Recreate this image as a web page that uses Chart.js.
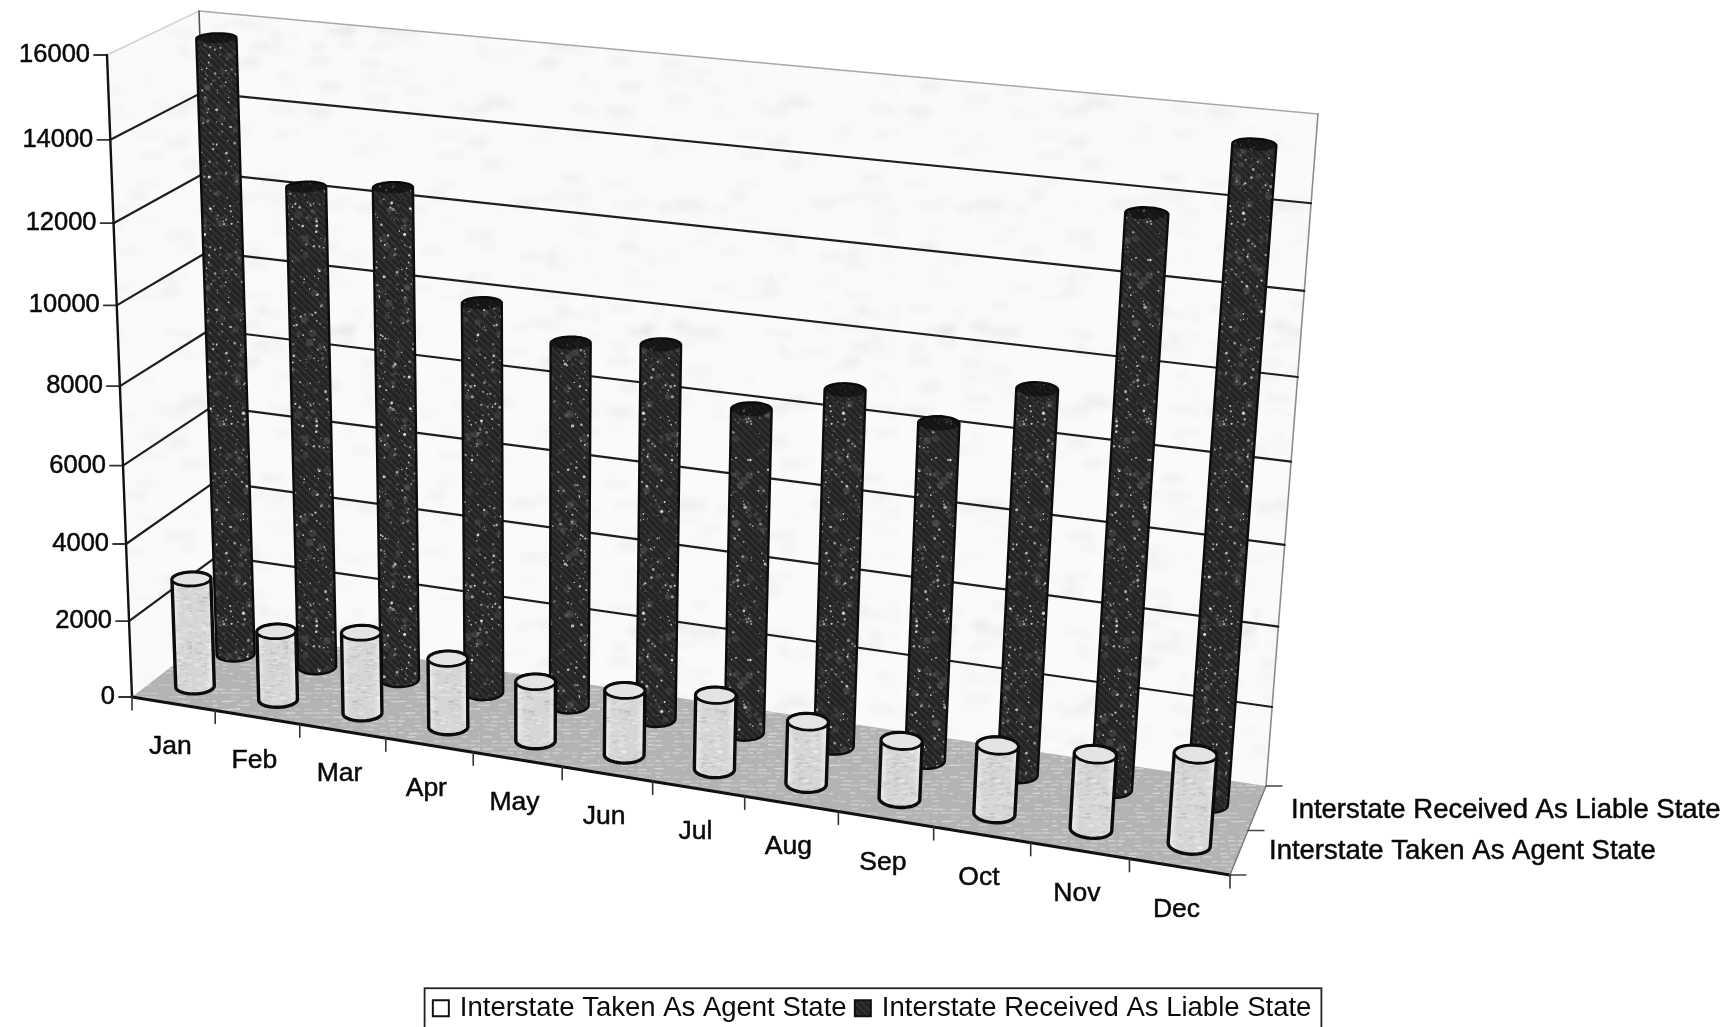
<!DOCTYPE html>
<html>
<head>
<meta charset="utf-8">
<title>Interstate cases by month</title>
<style>
  html, body { margin: 0; padding: 0; background: #fff; }
  canvas { display: block; }
</style>
<script src="https://cdn.jsdelivr.net/npm/chart.js@4"></script>
</head>
<body>
<canvas id="chart" width="1730" height="1027"></canvas>
<script>
// ---- data ----
const months = ["Jan", "Feb", "Mar", "Apr", "May", "Jun", "Jul", "Aug", "Sep", "Oct", "Nov", "Dec"];
const takenAsAgent = [2840, 1800, 2100, 1770, 1520, 1650, 1880, 1570, 1450, 1700, 1850, 2220];
const receivedAsLiable = [15740, 12340, 12555, 9970, 9250, 9470, 8170, 8910, 8390, 9480, 13800, 15570];
const seriesNames = ["Interstate Taken As Agent State", "Interstate Received As Liable State"];
const valueMax = 16000;
const valueStep = 2000;

// ---- 3d box: corners of the front and back planes on screen ----
const FRONT = { bl: [132, 697], br: [1230, 875], tr: [1282, 171], tl: [107, 55] };
const BACK = { bl: [220, 629], br: [1266, 786], tr: [1318, 114], tl: [199, 11] };
const ROW_DEPTH = [0.25, 0.72];
const RADIUS_U = 0.0174;
const RADIUS_W = 0.1;
const FONT = '"Liberation Sans", Arial, sans-serif';

function makeHomography(q) {
  const [x0, y0] = q.bl, [x1, y1] = q.br, [x2, y2] = q.tr, [x3, y3] = q.tl;
  const dx1 = x1 - x2, dx2 = x3 - x2, sx = x0 - x1 + x2 - x3;
  const dy1 = y1 - y2, dy2 = y3 - y2, sy = y0 - y1 + y2 - y3;
  const det = dx1 * dy2 - dx2 * dy1;
  const g = (sx * dy2 - dx2 * sy) / det;
  const h = (dx1 * sy - sx * dy1) / det;
  const a = x1 - x0 + g * x1, b = x3 - x0 + h * x3;
  const d = y1 - y0 + g * y1, e = y3 - y0 + h * y3;
  return (u, v) => {
    const t = g * u + h * v + 1;
    return [(a * u + b * v + x0) / t, (d * u + e * v + y0) / t];
  };
}
const frontPlane = makeHomography(FRONT);
const backPlane = makeHomography(BACK);

// u along the months, v up the values, w into the depth
function project(u, v, w) {
  const f = frontPlane(u, v), b = backPlane(u, v);
  return [f[0] + (b[0] - f[0]) * w, f[1] + (b[1] - f[1]) * w];
}

function convexHull(points) {
  const pts = points.slice().sort((p, q) => p[0] - q[0] || p[1] - q[1]);
  const cross = (o, p, q) => (p[0] - o[0]) * (q[1] - o[1]) - (p[1] - o[1]) * (q[0] - o[0]);
  const lower = [], upper = [];
  pts.forEach(p => {
    while (lower.length > 1 && cross(lower[lower.length - 2], lower[lower.length - 1], p) <= 0) lower.pop();
    lower.push(p);
  });
  pts.slice().reverse().forEach(p => {
    while (upper.length > 1 && cross(upper[upper.length - 2], upper[upper.length - 1], p) <= 0) upper.pop();
    upper.push(p);
  });
  return lower.slice(0, -1).concat(upper.slice(0, -1));
}

function tracePoly(ctx, pts) {
  ctx.beginPath();
  pts.forEach((p, i) => (i ? ctx.lineTo(p[0], p[1]) : ctx.moveTo(p[0], p[1])));
  ctx.closePath();
}

function strokeLine(ctx, a, b, color, width) {
  ctx.strokeStyle = color;
  ctx.lineWidth = width;
  ctx.beginPath();
  ctx.moveTo(a[0], a[1]);
  ctx.lineTo(b[0], b[1]);
  ctx.stroke();
}

// labels get a hairline stroke so they sit a little heavier
function heavyText(ctx, text, x, y, size, align) {
  ctx.font = size + "px " + FONT;
  ctx.textAlign = align;
  ctx.textBaseline = "middle";
  ctx.fillStyle = "#0a0a0a";
  ctx.strokeStyle = "#0a0a0a";
  ctx.lineWidth = 0.5;
  ctx.fillText(text, x, y);
  ctx.strokeText(text, x, y);
}

// ---- grainy fills ----
let seed = 7331;
function nextNoise() {
  seed = (seed * 16807) % 2147483647;
  return seed / 2147483647;
}

function makeTile(size, paint) {
  const tile = document.createElement("canvas");
  tile.width = tile.height = size;
  paint(tile.getContext("2d"), size);
  return tile;
}

const darkTile = makeTile(200, (c, s) => {
  c.fillStyle = "#242424";
  c.fillRect(0, 0, s, s);
  c.strokeStyle = "rgba(90,90,90,.3)";
  c.lineWidth = 1.6;
  for (let i = -s; i < s; i += 7) {
    c.beginPath();
    c.moveTo(i, 0);
    c.lineTo(i + s, s);
    c.stroke();
  }
  for (let i = 0; i < 260; i++) {
    c.fillStyle = "rgba(110,110,110," + (0.12 + nextNoise() * 0.25) + ")";
    c.beginPath();
    c.arc(nextNoise() * s, nextNoise() * s, 1 + nextNoise() * 3, 0, 7);
    c.fill();
  }
  for (let i = 0; i < 560; i++) {
    c.fillStyle = "rgba(235,235,235," + (0.3 + nextNoise() * 0.6) + ")";
    c.beginPath();
    c.arc(nextNoise() * s, nextNoise() * s, 0.5 + nextNoise() * nextNoise() * 1.4, 0, 7);
    c.fill();
  }
});

const lightTile = makeTile(96, (c, s) => {
  for (let i = 0; i < 420; i++) {
    c.fillStyle = nextNoise() > 0.5 ? "rgba(255,255,255,.3)" : "rgba(130,130,130,.16)";
    c.fillRect(nextNoise() * s, nextNoise() * s, 2 + nextNoise() * 5, 1.4);
  }
});

const floorTile = makeTile(120, (c, s) => {
  c.fillStyle = "#b3b3b3";
  c.fillRect(0, 0, s, s);
  for (let y = 0; y < s; y += 4) {
    for (let x = 0; x < s; x += 9) {
      if (nextNoise() > 0.35) {
        c.fillStyle = "rgba(235,235,235," + (0.25 + nextNoise() * 0.35) + ")";
        c.fillRect(x + nextNoise() * 4, y + nextNoise(), 4 + nextNoise() * 6, 1.4);
      }
    }
  }
});

// soft clouds on the walls
const wallTile = makeTile(300, (c, s) => {
  c.fillStyle = "#fafafa";
  c.fillRect(0, 0, s, s);
  c.filter = "blur(3px)";
  for (let i = 0; i < 150; i++) {
    c.fillStyle = "rgba(205,205,205," + (0.05 + nextNoise() * 0.12) + ")";
    c.fillRect(nextNoise() * s, nextNoise() * s, 8 + nextNoise() * 22, 3 + nextNoise() * 8);
  }
  c.filter = "none";
});

// ---- cylinders ----
function ring(u, v, w) {
  const out = [];
  for (let k = 0; k < 40; k++) {
    const a = (k / 40) * Math.PI * 2;
    out.push(project(u + RADIUS_U * Math.cos(a), v, w + RADIUS_W * Math.sin(a)));
  }
  return out;
}

function drawCylinder(ctx, u, v, w, dark) {
  const top = ring(u, v, w), bottom = ring(u, 0, w);
  const hull = convexHull(top.concat(bottom));
  const xs = hull.map(p => p[0]);
  const left = Math.min(...xs), right = Math.max(...xs);

  ctx.save();
  tracePoly(ctx, hull);
  if (dark) {
    ctx.fillStyle = ctx.createPattern(darkTile, "repeat");
    ctx.fill();
  } else {
    const g = ctx.createLinearGradient(left, 0, right, 0);
    g.addColorStop(0, "#f0f0f0");
    g.addColorStop(0.2, "#d6d6d6");
    g.addColorStop(0.8, "#d6d6d6");
    g.addColorStop(1, "#f0f0f0");
    ctx.fillStyle = g;
    ctx.fill();
    ctx.fillStyle = ctx.createPattern(lightTile, "repeat");
    ctx.fill();
  }
  ctx.strokeStyle = "#0c0c0c";
  ctx.lineWidth = dark ? 2.4 : 3.4;
  ctx.stroke();

  tracePoly(ctx, top);
  if (dark) {
    ctx.fillStyle = "rgba(10,10,10,.6)";
    ctx.fill();
  } else {
    ctx.fillStyle = "#e4e4e4";
    ctx.fill();
    ctx.lineWidth = 2.8;
    ctx.stroke();
  }
  ctx.restore();
}

// ---- box, axes and cylinders, all placed through the chart's scales ----
const boxPlugin = {
  id: "box3d",
  beforeDatasetsDraw(chart) {
    const ctx = chart.ctx;
    const area = chart.chartArea;
    const xs = chart.scales.x, ys = chart.scales.y;
    const toU = i => (xs.getPixelForValue(i) - area.left) / area.width;
    const toV = val => (area.bottom - ys.getPixelForValue(val)) / area.height;

    ctx.save();
    ctx.lineCap = "round";

    // walls
    ctx.fillStyle = ctx.createPattern(wallTile, "repeat");
    tracePoly(ctx, [BACK.bl, BACK.tl, BACK.tr, BACK.br]);
    ctx.fill();
    tracePoly(ctx, [FRONT.bl, FRONT.tl, BACK.tl, BACK.bl]);
    ctx.fill();

    // floor
    ctx.fillStyle = ctx.createPattern(floorTile, "repeat");
    tracePoly(ctx, [FRONT.bl, FRONT.br, BACK.br, BACK.bl]);
    ctx.fill();

    // wall edges
    strokeLine(ctx, BACK.tl, BACK.tr, "#a8a8a8", 1.6);
    strokeLine(ctx, FRONT.tl, BACK.tl, "#d4d4d4", 1.6);
    strokeLine(ctx, BACK.tr, BACK.br, "#8c8c8c", 1.6);
    strokeLine(ctx, BACK.tl, project(0, toV(valueMax * 0.96), 1), "#555", 1.6);

    // value gridlines and ticks
    ys.ticks.forEach(tick => {
      const v = toV(tick.value);
      const a = project(0, v, 0), b = project(0, v, 1), c = project(1, v, 1);
      if (tick.value > 0 && tick.value < valueMax) {
        strokeLine(ctx, a, b, "#1e1e1e", 2.2);
        strokeLine(ctx, b, c, "#1e1e1e", 2.2);
      }
      strokeLine(ctx, a, [a[0] - 13, a[1]], "#333", 1.8);
      heavyText(ctx, tick.label, a[0] - 17, a[1], 25.5, "right");
    });

    // floor front edge and value axis
    strokeLine(ctx, FRONT.bl, FRONT.br, "#111", 2.8);
    strokeLine(ctx, FRONT.tl, FRONT.bl, "#111", 2.4);
    strokeLine(ctx, FRONT.br, BACK.br, "#777", 1.4);

    // month ticks and labels
    xs.ticks.forEach((tick, i) => {
      const p = project(toU(i + 0.5), 0, 0);
      strokeLine(ctx, p, [p[0], p[1] + 13], "#333", 1.6);
      const mid = project(toU(i), 0, 0);
      heavyText(ctx, tick.label, mid[0] - 3, mid[1] + 43, 26.5, "center");
    });
    const first = project(toU(-0.5), 0, 0);
    strokeLine(ctx, first, [first[0], first[1] + 13], "#333", 1.6);

    // depth ticks and series names
    [0, 0.5, 1].forEach(w => {
      const p = project(1, 0, w);
      strokeLine(ctx, p, [p[0] + 16, p[1]], "#444", 1.4);
    });
    seriesNames.forEach((name, row) => {
      const p = project(1, 0, ROW_DEPTH[row] + (row ? 0.03 : 0));
      heavyText(ctx, name, p[0] + (row ? 34 : 30), p[1] + (row ? 2 : -1), 27.5, "left");
    });

    // back row first so the front row covers it
    [1, 0].forEach(row => {
      chart.data.datasets[row].data.forEach((val, i) => {
        drawCylinder(ctx, toU(i), toV(val), ROW_DEPTH[row], row === 1);
      });
    });

    ctx.restore();
    return false;
  },
  afterDraw(chart) {
    // frame around the legend, running off the bottom of the page
    const lg = chart.legend;
    const hits = lg.legendHitBoxes;
    const last = hits[hits.length - 1];
    const left = hits[0].left - 11;
    const right = last.left + last.width + 10;
    const ctx = chart.ctx;
    ctx.save();
    ctx.strokeStyle = "#222";
    ctx.lineWidth = 1.8;
    ctx.strokeRect(left, hits[0].top + hits[0].height / 2 - 20, right - left, 60);
    ctx.restore();
  }
};

const chartCtx = document.getElementById("chart").getContext("2d");

new Chart(chartCtx, {
  type: "bar",
  data: {
    labels: months,
    datasets: [
      { label: seriesNames[0], data: takenAsAgent, backgroundColor: "#ffffff", borderColor: "#111", borderWidth: 2 },
      { label: seriesNames[1], data: receivedAsLiable, backgroundColor: chartCtx.createPattern(darkTile, "repeat"), borderColor: "#111", borderWidth: 2 }
    ]
  },
  options: {
    responsive: false,
    animation: false,
    events: [],
    layout: { padding: { left: 17, bottom: -5 } },
    scales: {
      x: { display: false, ticks: { autoSkip: false } },
      y: {
        display: false,
        min: 0,
        max: valueMax,
        ticks: { stepSize: valueStep, callback: v => String(v) }
      }
    },
    plugins: {
      tooltip: { enabled: false },
      title: { display: false },
      legend: {
        position: "bottom",
        labels: {
          color: "#0a0a0a",
          font: { family: FONT, size: 27.5 },
          usePointStyle: true,
          pointStyle: "rect",
          boxWidth: 10.5,
          boxHeight: 16,
          padding: 11
        }
      }
    }
  },
  plugins: [boxPlugin]
});
</script>
</body>
</html>
